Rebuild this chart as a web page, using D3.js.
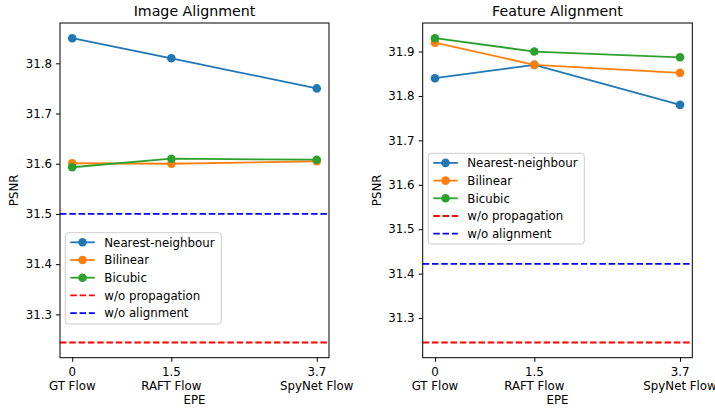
<!DOCTYPE html>
<html><head><meta charset="utf-8">
<script src="https://cdn.jsdelivr.net/npm/d3@7"></script>
<style>
html,body{margin:0;padding:0;background:#fff;}
svg{display:block;font-family:"DejaVu Sans",sans-serif;}
</style></head>
<body>
<svg id="chart" width="715" height="408"></svg>
<script>
const epe = [0, 1.5, 3.7];
const flowNames = ["GT Flow", "RAFT Flow", "SpyNet Flow"];
const seriesNames = ["Nearest-neighbour", "Bilinear", "Bicubic"];
const refNames = ["w/o propagation", "w/o alignment"];

const imgNearest = [31.85, 31.81, 31.75];
const imgBilinear = [31.601, 31.600, 31.605];
const imgBicubic = [31.593, 31.610, 31.608];
const imgNoProp = 31.244;
const imgNoAlign = 31.50;
const imgTicks = [31.3, 31.4, 31.5, 31.6, 31.7, 31.8];

const featNearest = [31.84, 31.87, 31.78];
const featBilinear = [31.92, 31.87, 31.852];
const featBicubic = [31.93, 31.90, 31.887];
const featNoProp = 31.245;
const featNoAlign = 31.422;
const featTicks = [31.3, 31.4, 31.5, 31.6, 31.7, 31.8, 31.9];

const colors = ["#1f77b4", "#ff7f0e", "#2ca02c"];
const refColors = ["#ff0000", "#0000ff"];

const svg = d3.select("#chart");
const FS = 11.8;

function panel(opt) {
  const {left, right, top, bottom, title, series, noProp, noAlign, ticks, legend, legendOrderRefs} = opt;
  const g = svg.append("g");
  const xpad = (epe[2] - epe[0]) * 0.05;
  const x = d3.scaleLinear().domain([epe[0] - xpad, epe[2] + xpad]).range([left, right]);
  const allY = series.flat().concat([noProp, noAlign]);
  const [mn, mx] = d3.extent(allY);
  const ypad = (mx - mn) * 0.05;
  const y = d3.scaleLinear().domain([mn - ypad, mx + ypad]).range([bottom, top]);

  // reference dashed lines
  const refs = [noProp, noAlign];
  refs.forEach((v, i) => {
    g.append("line").attr("x1", left).attr("x2", right)
      .attr("y1", y(v)).attr("y2", y(v))
      .attr("stroke", refColors[i]).attr("stroke-width", 1.8)
      .attr("stroke-dasharray", "6.5,2.8");
  });

  const line = d3.line().x((d, i) => x(epe[i])).y(d => y(d));
  series.forEach((s, k) => {
    g.append("path").datum(s).attr("d", line).attr("fill", "none")
      .attr("stroke", colors[k]).attr("stroke-width", 1.8);
    g.selectAll(null).data(s).enter().append("circle")
      .attr("cx", (d, i) => x(epe[i])).attr("cy", d => y(d)).attr("r", 4.3)
      .attr("fill", colors[k]);
  });

  // frame
  g.append("rect").attr("x", left).attr("y", top).attr("width", right - left).attr("height", bottom - top)
    .attr("fill", "none").attr("stroke", "#000").attr("stroke-width", 1);

  // y axis
  const ya = d3.axisLeft(y).tickValues(ticks).tickFormat(d3.format(".1f")).tickSize(4.1).tickPadding(4);
  const yg = g.append("g").attr("transform", `translate(${left},0)`).call(ya);
  yg.select(".domain").remove();
  yg.selectAll("text").attr("font-size", FS).attr("font-family", "DejaVu Sans").attr("fill", "#000");
  yg.selectAll("line").attr("stroke", "#000");

  // x axis
  const xa = d3.axisBottom(x).tickValues(epe).tickFormat("").tickSize(4.1);
  const xg = g.append("g").attr("transform", `translate(0,${bottom})`).call(xa);
  xg.select(".domain").remove();
  xg.selectAll("line").attr("stroke", "#000");
  epe.forEach((v, i) => {
    const t = g.append("text").attr("x", x(v)).attr("text-anchor", "middle")
      .attr("font-size", FS).attr("fill", "#000");
    t.append("tspan").attr("x", x(v)).attr("y", bottom + 18.5).text(String(v));
    t.append("tspan").attr("x", x(v)).attr("y", bottom + 32).text(flowNames[i]);
  });
  g.append("text").attr("x", (left + right) / 2).attr("y", 404).attr("text-anchor", "middle")
    .attr("font-size", FS).attr("fill", "#000").text("EPE");
  g.append("text").attr("transform", `translate(${left - 42},${(top + bottom) / 2}) rotate(-90)`)
    .attr("text-anchor", "middle").attr("font-size", FS).attr("fill", "#000").text("PSNR");

  g.append("text").attr("x", (left + right) / 2).attr("y", 15.5).attr("text-anchor", "middle")
    .attr("font-size", 14.2).attr("fill", "#000").text(title);

  // legend
  const lg = g.append("g");
  lg.append("rect").attr("x", legend.x).attr("y", legend.y).attr("width", legend.w).attr("height", legend.h)
    .attr("rx", 3).attr("fill", "#fff").attr("fill-opacity", 0.8).attr("stroke", "#cccccc").attr("stroke-width", 1);
  const items = seriesNames.map((n, k) => ({name: n, color: colors[k], dash: false}))
    .concat(refNames.map((n, k) => ({name: n, color: refColors[k], dash: true})));
  items.forEach((it, i) => {
    const cy = legend.y + 9.6 + i * 17.7;
    const hx = legend.x + 5;
    lg.append("line").attr("x1", hx).attr("x2", hx + 24.5).attr("y1", cy).attr("y2", cy)
      .attr("stroke", it.color).attr("stroke-width", 1.8)
      .attr("stroke-dasharray", it.dash ? "6.5,2.8" : null);
    if (!it.dash) lg.append("circle").attr("cx", hx + 12.25).attr("cy", cy).attr("r", 4.3).attr("fill", it.color);
    lg.append("text").attr("x", hx + 34).attr("y", cy + 4.3).attr("font-size", FS).attr("fill", "#000").text(it.name);
  });
}

panel({left: 60, right: 329, top: 23, bottom: 357.7, title: "Image Alignment",
  series: [imgNearest, imgBilinear, imgBicubic], noProp: imgNoProp, noAlign: imgNoAlign, ticks: imgTicks,
  legend: {x: 65.3, y: 232.7, w: 156, h: 91.3}});
panel({left: 422.7, right: 692.3, top: 23, bottom: 357.7, title: "Feature Alignment",
  series: [featNearest, featBilinear, featBicubic], noProp: featNoProp, noAlign: featNoAlign, ticks: featTicks,
  legend: {x: 428.3, y: 153.3, w: 156, h: 90.7}});
</script>
</body></html>
